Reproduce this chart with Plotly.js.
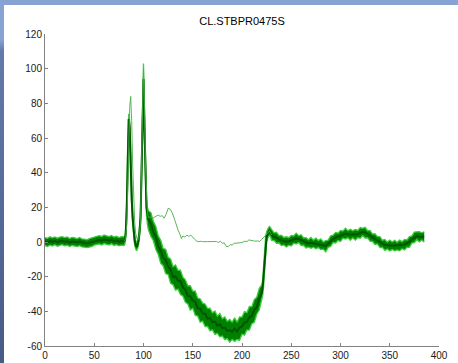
<!DOCTYPE html>
<html>
<head>
<meta charset="utf-8">
<script src="https://cdn.plot.ly/plotly-3.0.1.min.js"></script>
<style>
html,body{margin:0;padding:0;width:458px;height:363px;overflow:hidden;background:#fff;}
#topbar{position:absolute;left:0;top:0;width:458px;height:5px;background:rgb(134,163,212);}
#leftbar{position:absolute;left:0;top:0;width:4px;height:363px;
 background:linear-gradient(to bottom,rgb(134,163,212) 0%,rgb(134,163,212) 11%,rgb(100,122,172) 14%,rgb(72,90,134) 100%);}
#plot{position:absolute;left:4px;top:5px;width:454px;height:358px;}
</style>
</head>
<body>
<div id="topbar"></div>
<div id="leftbar"></div>
<div id="plot"></div>
<script>
const chartTitle = "CL.STBPR0475S";
const xTicks = [0,50,100,150,200,250,300,350,400];
const yTicks = [-60,-40,-20,0,20,40,60,80,100,120];

// sample positions of the overlapping band of runs
const bandX = [0,2.5,5,7.5,10,12.5,15,17.5,20,22.5,25,27.5,30,32.5,35,37.5,40,42.5,45,47.5,50,52.5,55,57.5,60,62.5,65,67.5,70,72.5,75,77.5,80,
 81,82,83,84,85,86,87,88,89,90,91,92,93,94,95,96,97,98,99,100,101,102,103,104,105,
 107.5,110,112.5,115,117.5,120,122.5,125,127.5,130,132.5,135,137.5,140,142.5,145,147.5,150,152.5,155,157.5,160,162.5,165,167.5,170,172.5,175,177.5,180,182.5,185,187.5,190,192.5,195,197.5,200,202.5,205,207.5,210,212.5,215,217.5,220,
 221,222,223,224,225,226,227,228,229,
 230,232.5,235,237.5,240,242.5,245,247.5,250,252.5,255,257.5,260,262.5,265,267.5,270,272.5,275,277.5,280,282.5,285,287.5,290,292.5,295,297.5,300,302.5,305,307.5,310,312.5,315,317.5,320,322.5,325,327.5,330,332.5,335,337.5,340,342.5,345,347.5,350,352.5,355,357.5,360,362.5,365,367.5,370,372.5,375,377.5,380,382.5,385];

// central (dark) run
const bandMid = [0.3,-0.2,0.5,0.1,0.6,-0.1,0.4,0.8,0.2,0.5,-0.2,0.3,0.1,-0.3,0.2,-0.4,-0.6,-0.9,-0.5,-0.2,0.6,0.9,1.2,0.8,1.4,1.1,0.7,1.3,0.5,0.9,0.2,0.6,0.4,
 1,5,20,52,71,66,42,25,14,6,1,-2,-3,-1.5,1,6,14,40,80,94,66,33,20,16,13,
 10.6,5.4,3.2,-2.7,-4.9,-9.2,-10.4,-14.2,-15.9,-20.2,-19.9,-22.2,-22.4,-26.2,-27.4,-31.2,-31.4,-33.7,-34.4,-38.2,-38.4,-41.2,-41.4,-44.2,-43.9,-46.2,-45.9,-48.2,-47.4,-49.7,-49.4,-51.2,-50.9,-51.7,-49.9,-51.7,-49.4,-48.7,-46.4,-46.2,-43.4,-42.7,-38.9,-37.7,-32.4,-29.7,
 -26,-18,-8,0,3,4.5,5.5,6.5,5.5,
 4,3,2.5,1.5,1,0.5,0.2,0.4,0.8,1.5,2,1.8,1.2,0.3,-0.3,-0.8,-0.5,-0.8,-0.9,-1,-1.3,-2,-2.3,-1,0.5,1.8,2.5,3,3.5,4.3,4.8,4.5,4.2,4.5,4.3,4.6,5.2,5.8,5.5,4.5,3.6,2.5,1.8,1,0,-1,-1.6,-2,-2,-2.1,-2,-2.3,-2,-1.8,-1.5,-0.9,0,1.5,2.6,3.5,3,3.2,3];

// highest run at each sample
const bandHigh = [2.6,2.1,3.0,2.4,2.9,2.2,2.8,3.1,2.5,2.9,2.0,2.7,2.4,1.9,2.6,1.8,1.7,1.3,1.9,2.3,3.0,3.4,3.7,3.2,4.0,3.6,3.1,3.8,2.9,3.3,2.6,3.1,2.8,
 3,8,25,58,74,70,47,29,17,9,3.5,0.5,-0.5,1,3.5,9,18,46,88,103,74,38,24,20,18,
 17,12,9,3.5,1,-3.8,-4.2,-8.8,-9.8,-14.2,-13.2,-16.3,-16.2,-20.3,-21.8,-25.3,-25.2,-28.3,-28.2,-32.3,-32.8,-35.3,-35.8,-38.3,-38.2,-40.8,-39.8,-42.8,-41.2,-44.3,-43.2,-45.8,-44.7,-46.3,-43.7,-46.3,-43.2,-43.3,-40.2,-40.8,-37.2,-37.3,-33.2,-31.8,-26.8,-24.8,
 -22,-12,-3,3.5,6,7.5,8.5,9,8,
 7,5.3,5.6,3.7,3.9,2.6,3,2.5,3.8,3.5,5.1,3.6,4.2,2.3,2.5,1.3,2.6,1.1,2.2,0.9,1.8,0.1,0.8,1.1,3.5,3.9,5.5,5.1,6.7,6.3,7.9,6.5,7.4,6.5,7.3,6.7,8.3,7.9,8.5,6.5,6.7,4.6,4.8,3.1,3.1,1,1.5,-0.1,1.1,0,1,-0.2,1.1,0.2,1.5,1.2,3.1,3.5,5.7,5.7,6,5.3,5.9];

// lowest run at each sample
const bandLow = [-2.0,-2.6,-1.8,-2.3,-1.6,-2.5,-2.0,-1.5,-2.2,-1.9,-2.6,-2.0,-2.3,-2.7,-2.1,-2.8,-3.0,-3.2,-2.9,-2.6,-1.8,-1.5,-1.1,-1.7,-0.9,-1.3,-1.8,-1.0,-2.0,-1.5,-2.2,-1.8,-2.0,
 -1.5,2,15,45,66,60,36,21,10,3,-1.5,-4,-5,-4,-1.5,3,10,34,72,88,58,28,15,10,7,
 3.2,0.8,-4.3,-7.2,-12.3,-13.7,-18.3,-18.7,-23.8,-24.7,-27.8,-27.2,-30.3,-31.2,-34.8,-35.7,-39.3,-38.2,-42.3,-42.7,-46.3,-45.7,-48.8,-48.7,-51.3,-50.7,-53.3,-52.7,-54.8,-54.2,-56.3,-55.7,-57.8,-56.2,-57.3,-56.2,-56.8,-53.2,-53.8,-50.7,-50.8,-47.2,-46.3,-41.7,-39.3,-33.2,
 -31,-25,-14,-4,0,2,3,4,3,
 1,0.9,-0.7,-0.6,-2.1,-1.7,-2.9,-1.8,-2.3,-0.7,-1.2,-0.3,-2,-1.9,-3.4,-2.9,-3.6,-3,-3.9,-3.2,-4.4,-4.1,-5.7,-3.1,-2.6,-0.3,-0.6,0.9,0.3,2.2,1.7,2.4,1,2.4,1.1,2.5,2.1,3.6,2.3,2.4,0.5,0.3,-1.4,-1.1,-3.2,-3.1,-4.8,-4.1,-5.2,-4.3,-5.1,-4.6,-5.1,-3.9,-4.6,-3,-3.1,-0.6,-0.4,1.4,0,1.1,0];

// the one diverging run
const outlierX = [80,81,82,83,84,85,86,87,88,89,90,91,92,93,94,95,96,97,98,99,100,101,102,103,104,105,107,109,111,113,115,117,119,121,123,125,127,129,131,133,135,137,138.5,140,142,144,146,148,150,152,154,156,158,160,165,170,174,176,178,180,182,184,186,188,190,192,195,200,203,205,207,210,213,216,218,220,222,224,226,228,230];
const outlierY = [0.5,1,3,10,30,55,78,84,70,45,25,12,5,2,1,2,5,12,35,75,100,80,45,25,17,14,14.5,13.5,14.5,15,15.5,14.8,15.2,13.7,16,19.4,19,17,14,10,7,4.5,2,3.5,2.8,4,3.2,4,2.5,1.5,0.5,0.2,0.4,0.2,0.2,0.2,0.3,-0.3,0.5,-0.8,-0.5,-2.5,-2.7,-1.5,-1.8,-0.8,-0.5,-0.3,0.5,0.2,1.2,0.8,0.5,0.6,0.3,1.5,2.5,4,5,6.5,4];

const traces = [
 {x: bandX, y: bandLow, type:'scatter', mode:'lines', line:{color:'rgb(60,205,60)', width:1.3}, hoverinfo:'skip'},
 {x: bandX, y: bandHigh, type:'scatter', mode:'lines', fill:'tonexty', fillcolor:'rgb(0,128,0)', line:{color:'rgb(60,205,60)', width:1.3}, hoverinfo:'skip'},
 {x: bandX, y: bandMid, type:'scatter', mode:'lines', line:{color:'rgb(0,85,0)', width:2}, hoverinfo:'skip'},
 {x: outlierX, y: outlierY, type:'scatter', mode:'lines', line:{color:'rgb(70,175,70)', width:0.9}, hoverinfo:'skip'}
];

const axisFont = {family:'"Liberation Sans", Arial, sans-serif', size:10, color:'#1a1a1a'};
const layout = {
 width:454, height:358,
 margin:{l:41, r:19, t:29, b:17, pad:0},
 paper_bgcolor:'#ffffff', plot_bgcolor:'#ffffff',
 showlegend:false,
 title:{text: chartTitle, x:0.5, xref:'paper', xanchor:'center', y:1-16/358, yref:'container', yanchor:'middle',
   font:{family:'"Liberation Sans", Arial, sans-serif', size:11, color:'#000'}},
 xaxis:{range:[0,400], tickmode:'array', tickvals:xTicks, ticktext:xTicks.map(String),
   showgrid:false, zeroline:false, showline:true, linecolor:'rgb(130,130,130)', linewidth:1, mirror:false,
   ticks:'inside', ticklen:3, tickcolor:'rgb(130,130,130)', tickfont:axisFont, automargin:false, fixedrange:true},
 yaxis:{range:[-60,120], tickmode:'array', tickvals:yTicks, ticktext:yTicks.map(String),
   showgrid:false, zeroline:false, showline:true, linecolor:'rgb(130,130,130)', linewidth:1, mirror:false,
   ticks:'inside', ticklen:3, tickcolor:'rgb(130,130,130)', tickfont:axisFont, automargin:false, fixedrange:true}
};
Plotly.newPlot('plot', traces, layout, {displayModeBar:false, staticPlot:true});
</script>
</body>
</html>
